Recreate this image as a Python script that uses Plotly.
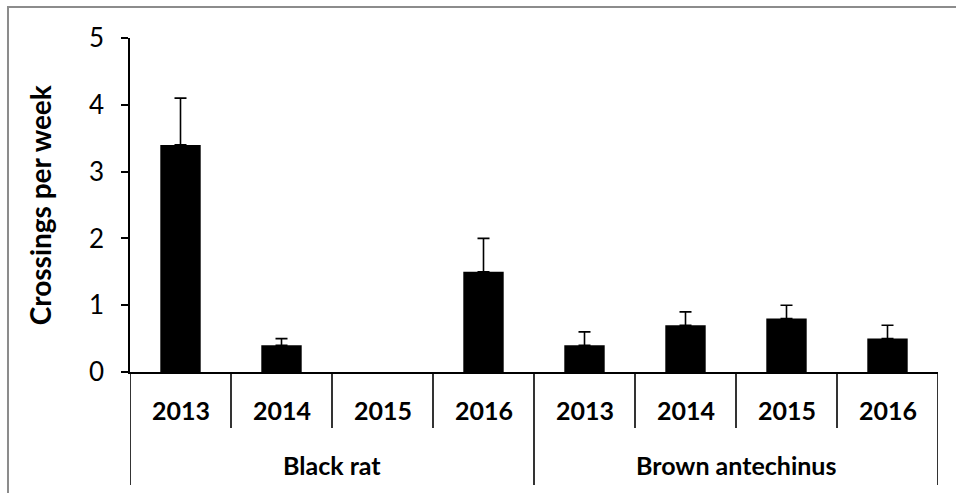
import plotly.graph_objects as go

species = ["Black rat", "Brown antechinus"]
years = ["2013", "2014", "2015", "2016"]
means = [3.4, 0.4, 0.0, 1.5, 0.4, 0.7, 0.8, 0.5]
errors = [0.7, 0.1, None, 0.5, 0.2, 0.2, 0.2, 0.2]
y_ticks = [0, 1, 2, 3, 4, 5]
y_title = "Crossings per week"

FONT = "Lato, 'Open Sans', sans-serif"
n = len(species) * len(years)
xs = list(range(n))
year_labels = [y for s in species for y in years]

fig = go.Figure()
fig.add_trace(go.Bar(
    x=xs, y=means,
    marker=dict(color="black", line=dict(width=0)),
    width=0.4, hoverinfo="y",
))
# upper error bars only where an error value exists
ex = [x for x, e in zip(xs, errors) if e is not None]
ey = [m for m, e in zip(means, errors) if e is not None]
ee = [e for e in errors if e is not None]
fig.add_trace(go.Scatter(
    x=ex, y=ey, mode="markers", marker=dict(size=1, color="rgba(0,0,0,0)"),
    error_y=dict(type="data", array=ee, symmetric=False, arrayminus=[0] * len(ee),
                 color="black", thickness=1.6, width=6),
    hoverinfo="skip",
))

shapes = []
# outer border (extends beyond canvas right/bottom)
shapes.append(dict(type="rect", xref="paper", yref="paper",
                   x0=-0.151, x1=1.2, y0=-0.6, y1=1.0928,
                   line=dict(color="#8c8c8c", width=2), layer="below"))
# dividers
for i in range(n + 1):
    b = i - 0.5
    full = (i % len(years) == 0)
    shapes.append(dict(type="line", xref="x", yref="paper",
                       x0=b, x1=b, y0=0, y1=-0.338 if full else -0.168,
                       line=dict(color="black", width=1.6)))

annotations = []
for i, lab in enumerate(year_labels):
    annotations.append(dict(x=i, y=-0.114, xref="x", yref="paper", text=f"<b>{lab}</b>",
                            showarrow=False, xanchor="center", yanchor="middle",
                            font=dict(family=FONT, size=25, color="black")))
for j, sp in enumerate(species):
    cx = j * len(years) + (len(years) - 1) / 2
    annotations.append(dict(x=cx, y=-0.278, xref="x", yref="paper", text=f"<b>{sp}</b>",
                            showarrow=False, xanchor="center", yanchor="middle",
                            font=dict(family=FONT, size=25, color="black")))
annotations.append(dict(x=-0.111, y=0.5, xref="paper", yref="paper", text=f"<b>{y_title}</b>",
                        showarrow=False, textangle=-90, xanchor="center", yanchor="middle",
                        font=dict(family=FONT, size=28, color="black")))

fig.update_layout(
    width=956, height=493,
    margin=dict(l=130, r=18, t=38, b=121),
    paper_bgcolor="white", plot_bgcolor="white",
    showlegend=False,
    shapes=shapes, annotations=annotations,
    xaxis=dict(range=[-0.5, n - 0.5], showticklabels=False, ticks="",
               showline=True, linecolor="black", linewidth=1.6,
               showgrid=False, zeroline=False, fixedrange=True),
    yaxis=dict(range=[0, 5], tickvals=y_ticks, ticks="outside", ticklen=7,
               tickwidth=1.6, tickcolor="black",
               showline=True, linecolor="black", linewidth=1.6,
               showgrid=False, zeroline=False,
               tickfont=dict(family=FONT, size=26, color="black"),
               ticklabelstandoff=12),
)

fig.write_html("out.html",
               config={"displayModeBar": False},
               post_script="document.body.style.margin='0px';"
                           "document.body.style.overflow='hidden';")
